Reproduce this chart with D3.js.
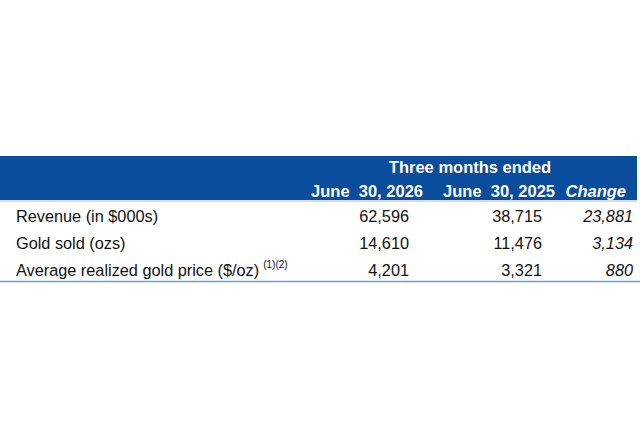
<!DOCTYPE html>
<html>
<head>
<meta charset="utf-8">
<script src="https://cdn.jsdelivr.net/npm/d3@7/dist/d3.min.js"></script>
<style>
  body { margin: 0; background: #fff; }
  text { font-family: Arial, "Liberation Sans", sans-serif; white-space: pre; }
</style>
</head>
<body>
<script>
  var w = 640;
  var h = 440;

  // table data
  var groupTitle = "Three months ended";
  var columns = ["June  30, 2026", "June  30, 2025", "Change"];
  var rowLabels = ["Revenue (in $000s)", "Gold sold (ozs)", "Average realized gold price ($/oz)"];
  var rowNotes = ["", "", "(1)(2)"];
  var current = [62596, 14610, 4201];
  var prior = [38715, 11476, 3321];
  var change = [23881, 3134, 880];

  var blue = "#0a4d9c";
  var rule = "#6b9fd6";
  var fmt = d3.format(",");

  var svg = d3.select("body").append("svg")
    .attr("width", w)
    .attr("height", h);

  // header band
  svg.append("rect")
    .attr("x", 0).attr("y", 156)
    .attr("width", 637).attr("height", 44)
    .attr("fill", blue);
  svg.append("line")
    .attr("x1", 0).attr("x2", 637)
    .attr("y1", 201).attr("y2", 201)
    .attr("stroke", "#9dbde6").attr("stroke-width", 1);

  svg.append("text")
    .attr("x", 470).attr("y", 173)
    .attr("text-anchor", "middle")
    .attr("fill", "#fff")
    .attr("font-size", 16.5)
    .attr("font-weight", "bold")
    .text(groupTitle);

  // header column x (right edges)
  var headX = d3.scaleOrdinal().domain(columns).range([423, 555, 626]);
  svg.selectAll("text.colhead")
    .data(columns)
    .enter().append("text")
    .attr("class", "colhead")
    .attr("x", function (d) { return headX(d); })
    .attr("y", 197)
    .attr("text-anchor", "end")
    .attr("fill", "#fff")
    .attr("font-size", 16.5)
    .attr("font-weight", "bold")
    .attr("font-style", function (d, i) { return i == 2 ? "italic" : "normal"; })
    .text(function (d) { return d; });

  // rows
  var y = d3.scalePoint().domain(rowLabels).range([222, 276]);

  var rows = svg.selectAll("g.row")
    .data(rowLabels)
    .enter().append("g")
    .attr("class", "row")
    .attr("transform", function (d) { return "translate(0," + y(d) + ")"; });

  rows.append("text")
    .attr("x", 16)
    .attr("font-size", 16.3)
    .attr("fill", "#111")
    .text(function (d) { return d; })
    .append("tspan")
    .attr("dx", 4)
    .attr("dy", -8)
    .attr("font-size", 10)
    .text(function (d, i) { return rowNotes[i]; });

  var valX = [409, 542, 633];
  var series = [current, prior, change];
  series.forEach(function (vals, c) {
    rows.append("text")
      .attr("x", valX[c])
      .attr("text-anchor", "end")
      .attr("font-size", 16.3)
      .attr("fill", "#111")
      .attr("font-style", c == 2 ? "italic" : "normal")
      .text(function (d, i) { return fmt(vals[i]); });
  });

  // bottom rule
  svg.append("line")
    .attr("x1", 0).attr("x2", 640)
    .attr("y1", 281.5).attr("y2", 281.5)
    .attr("stroke", rule).attr("stroke-width", 1.5);
</script>
</body>
</html>
